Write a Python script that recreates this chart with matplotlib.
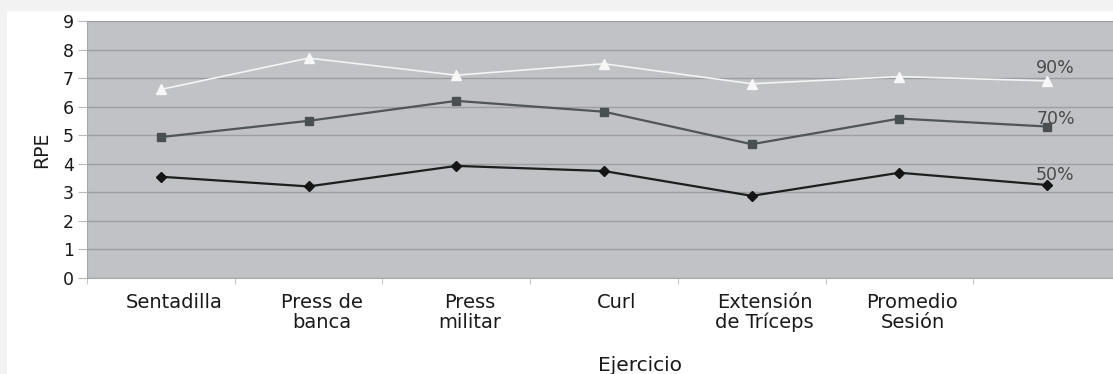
import matplotlib
matplotlib.use("Agg")
import matplotlib.pyplot as plt
from matplotlib.patches import Rectangle
from matplotlib.transforms import ScaledTranslation

ejercicios = ["Sentadilla", "Press de\nbanca", "Press\nmilitar", "Curl",
              "Extensión\nde Tríceps", "Promedio\nSesión", ""]
rpe_90 = [6.6, 7.7, 7.1, 7.5, 6.8, 7.05, 6.9]
rpe_70 = [4.93, 5.5, 6.2, 5.82, 4.68, 5.58, 5.3]
rpe_50 = [3.54, 3.2, 3.92, 3.74, 2.87, 3.68, 3.25]
series_names = ["90%", "70%", "50%"]
y_ticks = list(range(0, 10))

W, H = 1113, 374
fig = plt.figure(figsize=(W / 100, H / 100), dpi=100, facecolor="#f2f2f2")
# white chart panel
panel = Rectangle((7 / W, 0), 1, 1 - 11 / H, transform=fig.transFigure,
                  facecolor="white", edgecolor="none", zorder=-10)
fig.add_artist(panel)

ax = fig.add_axes([87 / W, 96.3 / H, (1121 - 87) / W, 256.7 / H])
ax.set_facecolor("#c1c2c6")

x = list(range(len(ejercicios)))
ax.set_xlim(-0.5, len(ejercicios) - 0.5)
ax.set_ylim(0, 9)

ax.plot(x, rpe_90, color="#f4f4f4", lw=1.2, marker="^", ms=7,
        mfc="#f7f7f7", mec="#f7f7f7", zorder=3)
ax.plot(x, rpe_70, color="#505558", lw=1.6, marker="s", ms=6,
        mfc="#4a4f52", mec="#4a4f52", zorder=3)
ax.plot(x, rpe_50, color="#1e1e1e", lw=1.6, marker="D", ms=5.5,
        mfc="#151515", mec="#151515", zorder=3)

# series labels at the last point
for vals, name, dy in zip([rpe_90, rpe_70, rpe_50], series_names, [13, 8, 10]):
    ax.annotate(name, xy=(x[-1], vals[-1]), xytext=(-11, dy),
                textcoords="offset pixels", ha="left", va="center",
                fontsize=12.5, color="#4a4a4a", zorder=4)

# grid
ax.set_yticks(y_ticks)
ax.yaxis.grid(True, color="#9c9ea2", lw=1.0, zorder=1)
ax.set_axisbelow(True)
ax.tick_params(axis="y", length=6.5, color="#b8b8b8", labelsize=12.5,
               labelcolor="#1a1a1a", pad=3)

# x axis: tick marks between categories, labels at category centres
ax.set_xticks([i - 0.5 for i in range(len(ejercicios) + 1)])
ax.set_xticklabels([])
ax.tick_params(axis="x", which="major", length=4, color="#c8c8c8")
ax.set_xticks(x, minor=True)
ax.set_xticklabels(ejercicios, minor=True, fontsize=14, color="#1a1a1a",
                   linespacing=1.05)
ax.tick_params(axis="x", which="minor", length=0, pad=11)
shift = ScaledTranslation(13 / 100, 0, fig.dpi_scale_trans)
for lbl in ax.xaxis.get_minorticklabels():
    lbl.set_transform(lbl.get_transform() + shift)

for side in ["top", "right"]:
    ax.spines[side].set_visible(False)
ax.spines["left"].set_color("#a8a8a8")
ax.spines["bottom"].set_color("#a8a8a8")

ax.set_ylabel("RPE", fontsize=13.5, color="#1a1a1a", labelpad=8)
ax.set_xlabel("Ejercicio", fontsize=14.5, color="#1a1a1a")
ax.xaxis.set_label_coords((640 - 87) / (1121 - 87), -0.305)

fig.savefig("out.png", dpi=100, facecolor=fig.get_facecolor())
